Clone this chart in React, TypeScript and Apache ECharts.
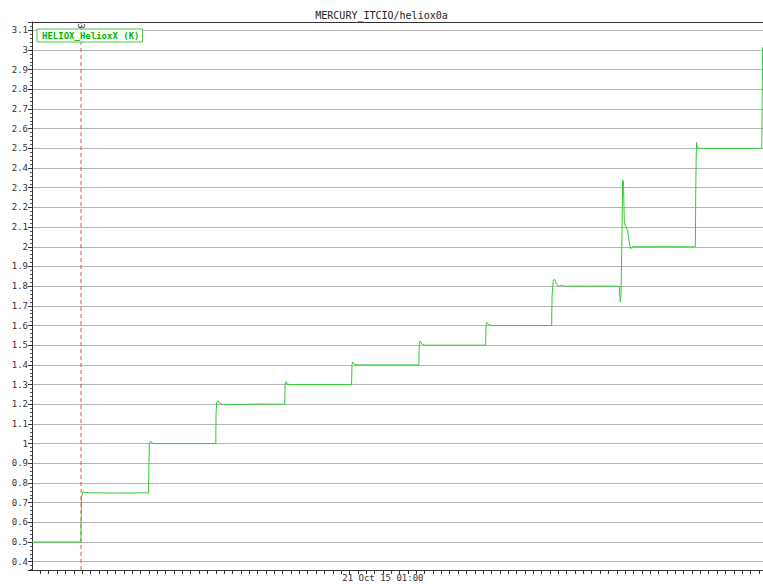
import React, { useEffect, useRef } from "react";
import * as echarts from "echarts";

const titleText = "MERCURY_ITCIO/heliox0a";
const seriesName = "HELIOX_HelioxX (K)";
const xLabelAt = 60;
const xLabelText = "21 Oct 15 01:00";
const markerMinute = 23.87;
const markerLabel = "3";
const yMin = 0.358;
const yMax = 3.142;
const xMin = 18;
const xMax = 105.5;

// minutes after 00:00 on 21 Oct 15
const times: number[] = [
  18, 23.85, 23.87, 23.9, 23.92, 24.0, 24.1, 24.4, 25.0, 28.0, 31.95,
  32.0, 32.05, 32.15, 32.4, 32.7, 36.0, 40.0,
  40.03, 40.1, 40.25, 40.5, 40.8, 41.2, 43.0, 45.0, 48.25,
  48.3, 48.4, 48.6, 49.0, 52.0, 56.25,
  56.3, 56.4, 56.6, 57.0, 60.0, 64.3,
  64.35, 64.45, 64.7, 65.1, 68.0, 72.3,
  72.35, 72.45, 72.7, 73.1, 76.0, 80.2,
  80.25, 80.4, 80.55, 80.8, 81.1, 81.4, 81.7, 85.0, 88.3,
  88.35, 88.42, 88.5, 88.6, 88.7, 88.8, 88.9, 89.1, 89.3, 89.5, 89.65, 89.9, 93.0, 97.4,
  97.45, 97.5, 97.55, 97.65, 101.0, 105.35,
  105.4, 105.45, 105.5,
];
const values: number[] = [
  0.5, 0.5, 0.61, 0.62, 0.73, 0.74, 0.755, 0.752, 0.75, 0.749, 0.75,
  0.9, 1.005, 1.012, 1.003, 1.0, 1.0, 1.0,
  1.15, 1.21, 1.218, 1.205, 1.198, 1.2, 1.199, 1.201, 1.2,
  1.3, 1.315, 1.302, 1.3, 1.3, 1.3,
  1.4, 1.415, 1.403, 1.4, 1.4, 1.4,
  1.5, 1.52, 1.505, 1.5, 1.5, 1.5,
  1.6, 1.615, 1.603, 1.6, 1.6, 1.6,
  1.75, 1.83, 1.835, 1.81, 1.8, 1.805, 1.8, 1.8, 1.8,
  1.76, 1.72, 1.76, 2.0, 2.34, 2.33, 2.12, 2.1, 2.08, 2.02, 1.99, 2.0, 2.0, 2.0,
  2.27, 2.45, 2.53, 2.5, 2.5, 2.5,
  2.72, 3.01, 3.015,
];

const mono = "'DejaVu Sans Mono', monospace";
const markerColor = "#e8504a";

export default function App() {
  const ref = useRef<HTMLDivElement>(null);
  useEffect(() => {
    if (!ref.current) return;
    const chart = echarts.init(ref.current, null, { renderer: "svg" });
    const data = times.map((t, i) => [t, values[i]]);
    chart.setOption({
      animation: false,
      backgroundColor: "#ffffff",
      title: {
        text: titleText,
        left: "center",
        top: 5,
        textStyle: { fontFamily: mono, fontSize: 10, fontWeight: "normal", color: "#222" },
      },
      legend: {
        left: 37,
        top: 29,
        z: 20,
        data: [seriesName],
        icon: "rect",
        itemWidth: 0,
        itemHeight: 0,
        itemGap: 0,
        padding: [2, 3, 2, 0],
        borderColor: "#44cc44",
        borderWidth: 1,
        backgroundColor: "#ffffff",
        textStyle: { fontFamily: mono, fontSize: 9, fontWeight: "bold", color: "#00b400" },
      },
      grid: { left: 32, right: 0, top: 22, bottom: 14, containLabel: false },
      xAxis: [
        {
          type: "value",
          min: xMin,
          max: xMax,
          interval: 1,
          axisLine: { show: true, lineStyle: { color: "#333", width: 1 } },
          axisTick: { show: true, length: 4, lineStyle: { color: "#333" } },
          splitLine: { show: false },
          axisLabel: {
            show: true,
            showMinLabel: false,
            showMaxLabel: false,
            formatter: (v: number) => (Math.abs(v - xLabelAt) < 1e-6 ? xLabelText : ""),
            fontFamily: mono,
            fontSize: 9,
            color: "#333",
            margin: 3,
          },
        },
        {
          type: "value",
          position: "top",
          min: xMin,
          max: xMax,
          axisLine: { show: true, onZero: false, lineStyle: { color: "#333", width: 1 } },
          axisTick: { show: false },
          axisLabel: { show: false },
          splitLine: { show: false },
        },
      ],
      yAxis: {
        type: "value",
        min: yMin,
        max: yMax,
        splitNumber: 27,
        axisLine: { show: true, lineStyle: { color: "#333", width: 1 } },
        axisTick: { show: true, length: 4, lineStyle: { color: "#333" } },
        minorTick: { show: true, splitNumber: 5, length: 2, lineStyle: { color: "#555" } },
        splitLine: { show: true, lineStyle: { color: "#b4b4b4", width: 1 } },
        axisLabel: {
          showMinLabel: false,
          showMaxLabel: false,
          formatter: (v: number) => String(Math.round(v * 10) / 10),
          fontFamily: mono,
          fontSize: 9,
          color: "#333",
          margin: 4,
        },
      },
      series: [
        {
          name: "marker",
          type: "line",
          xAxisIndex: 0,
          z: 1,
          silent: true,
          symbol: "circle",
          symbolSize: 0.1,
          showSymbol: true,
          itemStyle: { color: markerColor },
          lineStyle: { color: markerColor, type: [4, 3], width: 1 },
          data: [
            { value: [markerMinute, yMin] },
            {
              value: [markerMinute, yMax],
              label: {
                show: true,
                formatter: markerLabel,
                position: "inside",
                offset: [4, 0],
                rotate: -90,
                fontFamily: mono,
                fontSize: 9,
                color: "#333",
              },
            },
          ],
        },
        {
          name: seriesName,
          type: "line",
          xAxisIndex: 0,
          z: 3,
          data,
          showSymbol: false,
          symbol: "none",
          itemStyle: { color: "#33cc33" },
          lineStyle: { color: "#33cc33", width: 1 },
        },
      ],
    });
    return () => chart.dispose();
  }, []);
  return (
    <div
      ref={ref}
      style={{ position: "fixed", left: 0, top: 0, width: 763, height: 584 }}
    />
  );
}
